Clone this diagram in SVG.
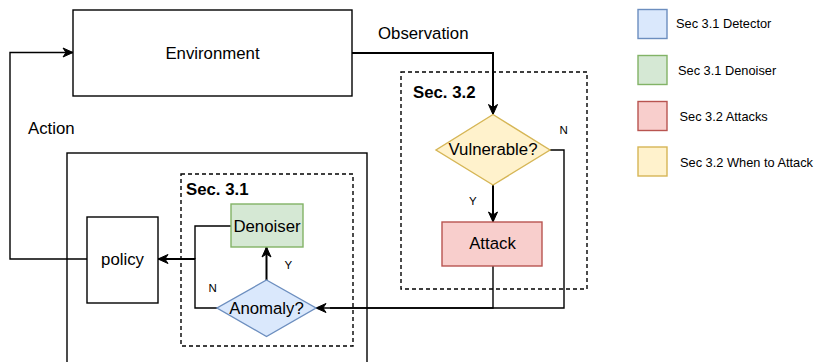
<svg xmlns="http://www.w3.org/2000/svg" width="817" height="362" viewBox="0 0 817 362">
<style>
  .box { fill: #ffffff; stroke: #000000; stroke-width: 1.4; }
  .dash { fill: none; stroke: #000000; stroke-width: 1.4; stroke-dasharray: 4 3; }
  .lbl { font-family: "Liberation Sans", Arial, sans-serif; font-size: 16.8px; fill: #000000; }
  .mid { text-anchor: middle; }
  .bold { font-weight: bold; }
  .small { font-family: "Liberation Sans", Arial, sans-serif; font-size: 11.5px; fill: #000000; }
  .leg { font-family: "Liberation Sans", Arial, sans-serif; font-size: 12.8px; fill: #000000; }
  .edge { fill: none; stroke: #000000; stroke-width: 1.4; }
  .thick { stroke-width: 2; }
  .blue { fill: #dae8fc; stroke: #6c8ebf; stroke-width: 1.4; }
  .green { fill: #d5e8d4; stroke: #82b366; stroke-width: 1.4; }
  .red { fill: #f8cecc; stroke: #b85450; stroke-width: 1.4; }
  .yellow { fill: #fff2cc; stroke: #d6b656; stroke-width: 1.4; }
</style>
<defs>
  <marker id="arr" markerUnits="userSpaceOnUse" markerWidth="12" markerHeight="12" viewBox="0 0 12 12" refX="11" refY="6" orient="auto">
    <path d="M1,1.5 L11,6 L1,10.5 L4,6 Z" fill="#000000" stroke="#000000" stroke-width="1"/>
  </marker>
</defs>
<rect x="0" y="0" width="817" height="362" fill="#ffffff"/>

<g id="agent-frame">
  <rect class="box" x="67" y="153" width="300" height="230"/>
</g>
<g id="sec31">
  <rect class="dash" x="181" y="174" width="172" height="172"/>
  <text class="lbl bold" x="186" y="195">Sec. 3.1</text>
</g>
<g id="sec32">
  <rect class="dash" x="401" y="72" width="186" height="217"/>
  <text class="lbl bold" x="413" y="98">Sec. 3.2</text>
</g>

<g id="connectors">
  <path class="edge" d="M87,259 H10 V52.5 H73" marker-end="url(#arr)"/>
  <path class="edge thick" d="M352,53 H493 V114.5" marker-end="url(#arr)"/>
  <path class="edge thick" d="M493,185 V222" marker-end="url(#arr)"/>
  <path class="edge" d="M550,150 H564 V308 H316" marker-end="url(#arr)"/>
  <path class="edge" d="M493,266 V308 H330"/>
  <path class="edge thick" d="M266.5,280 V247" marker-end="url(#arr)"/>
  <path class="edge" d="M217,308 H195 V259 H170"/>
  <path class="edge" d="M231,226 H195 V259"/>
  <path class="edge thick" d="M195,259 H158" marker-end="url(#arr)"/>
  <text class="lbl" x="378" y="38.5">Observation</text>
  <text class="lbl" x="28" y="134">Action</text>
  <text class="small" x="559.5" y="133.5">N</text>
  <text class="small" x="469" y="205">Y</text>
  <text class="small" x="208.5" y="291.5">N</text>
  <text class="small" x="284.5" y="269">Y</text>
</g>

<g id="environment">
  <rect class="box" x="73" y="10" width="279" height="86"/>
  <text class="lbl mid" x="212.5" y="59">Environment</text>
</g>
<g id="policy">
  <rect class="box" x="87" y="217" width="71" height="86"/>
  <text class="lbl mid" x="122.5" y="265">policy</text>
</g>
<g id="denoiser">
  <rect class="green" x="231" y="204" width="72" height="43"/>
  <text class="lbl mid" x="267" y="232">Denoiser</text>
</g>
<g id="anomaly">
  <polygon class="blue" points="266.5,280 316,308 266.5,336.5 217,308"/>
  <text class="lbl mid" x="266.5" y="314">Anomaly?</text>
</g>
<g id="vulnerable">
  <polygon class="yellow" points="493,114.5 550,150 493,185 436,150"/>
  <text class="lbl mid" x="493" y="155">Vulnerable?</text>
</g>
<g id="attack">
  <rect class="red" x="442" y="222" width="100" height="44"/>
  <text class="lbl mid" x="492.5" y="249">Attack</text>
</g>

<g id="legend">
  <rect class="blue" x="638" y="9.5" width="29" height="29"/>
  <text class="leg" x="676" y="28">Sec 3.1 Detector</text>
  <rect class="green" x="638" y="55.5" width="29" height="29"/>
  <text class="leg" x="678" y="74.5">Sec 3.1 Denoiser</text>
  <rect class="red" x="638" y="101.5" width="29" height="29"/>
  <text class="leg" x="679.5" y="121">Sec 3.2 Attacks</text>
  <rect class="yellow" x="638" y="147" width="29" height="29"/>
  <text class="leg" x="680" y="167">Sec 3.2 When to Attack</text>
</g>
</svg>
